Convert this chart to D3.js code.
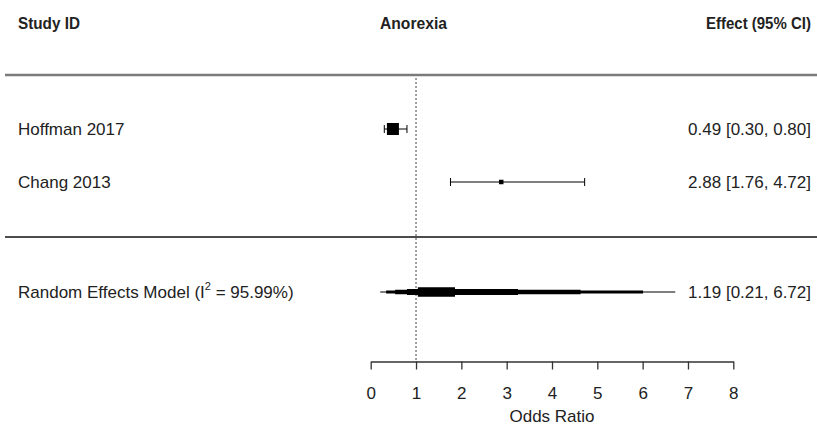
<!DOCTYPE html>
<html><head><meta charset="utf-8">
<script src="https://cdn.jsdelivr.net/npm/d3@7"></script>
<style>html,body{margin:0;padding:0;background:#fff;}svg{display:block;}</style>
</head><body>
<script>
// ---- data ----
const studies = ["Hoffman 2017", "Chang 2013"];
const estimates = [0.49, 2.88];
const lowers = [0.30, 1.76];
const uppers = [0.80, 4.72];
const weights = [1.0, 0.12];           // relative weight
const effectLabels = ["0.49 [0.30, 0.80]", "2.88 [1.76, 4.72]"];
const summaryLabel = "Random Effects Model";
const summaryI2 = "95.99%";
const summaryEffect = "1.19 [0.21, 6.72]";
const summaryEstimate = 1.19;
// nested interval bands of the summary (outer -> inner)
const bandLower = [0.21, 0.34, 0.54, 0.80, 1.04];
const bandUpper = [6.72, 6.01, 4.63, 3.25, 1.86];
const xTicks = [0, 1, 2, 3, 4, 5, 6, 7, 8];
const headers = ["Study ID", "Anorexia", "Effect (95% CI)"];
const axisTitle = "Odds Ratio";
const refValue = 1;

// ---- layout ----
const W = 817, H = 432;
const svg = d3.select("body").append("svg").attr("width", W).attr("height", H);
const x = d3.scaleLinear().domain([0, 8]).range([370.7, 733.3]);
const rowY = d3.scalePoint().domain(studies).range([129, 182]);
const yHeader = 23, yTop = 75, yDiv = 237, ySum = 292, yAxis = 361.5;
const font = "'Liberation Sans', Arial, sans-serif";
const txt = "#222";
const fs = 17;

// headers (condensed bold via horizontal scale)
const hdrSpec = [
  {x: 18, len: 62},
  {x: 380, len: 67},
  {x: 706, len: 105}
];
const hdr = svg.append("g").attr("font-family", font)
  .attr("font-weight", "bold").attr("font-size", 17).attr("fill", txt);
headers.forEach((h, i) => {
  const t = hdr.append("text").attr("x", 0).attr("y", 0).attr("dy", "0.35em").text(h);
  const natural = t.node().getComputedTextLength();
  const sx = hdrSpec[i].len / natural;
  t.attr("transform", `translate(${hdrSpec[i].x},${yHeader}) scale(${sx},1)`);
});

// separators
svg.append("line").attr("x1", 5).attr("x2", W).attr("y1", yTop).attr("y2", yTop)
  .attr("stroke", "#7a7a7a").attr("stroke-width", 2.5);
svg.append("line").attr("x1", 5).attr("x2", W).attr("y1", yDiv).attr("y2", yDiv)
  .attr("stroke", "#111").attr("stroke-width", 1.5);

// reference line
svg.append("line").attr("x1", x(refValue)).attr("x2", x(refValue)).attr("y1", yTop + 3).attr("y2", yAxis)
  .attr("stroke", "#444").attr("stroke-width", 1).attr("stroke-dasharray", "2,2");

// study rows
const rows = svg.append("g");
studies.forEach((s, i) => {
  const y = rowY(s);
  rows.append("text").attr("x", 18).attr("y", y).attr("dy", "0.35em")
    .attr("font-family", font).attr("font-size", fs).attr("fill", txt).text(s);
  rows.append("text").attr("x", 811).attr("y", y).attr("dy", "0.35em").attr("text-anchor", "end")
    .attr("font-family", font).attr("font-size", fs).attr("fill", txt).text(effectLabels[i]);
  rows.append("line").attr("x1", x(lowers[i])).attr("x2", x(uppers[i])).attr("y1", y).attr("y2", y)
    .attr("stroke", "#000").attr("stroke-width", 1);
  [lowers[i], uppers[i]].forEach(v => rows.append("line").attr("x1", x(v)).attr("x2", x(v))
    .attr("y1", y - 4).attr("y2", y + 4).attr("stroke", "#000").attr("stroke-width", 1));
  const size = weights[i] > 0.5 ? 12 : 4.5;
  rows.append("rect").attr("x", x(estimates[i]) - size / 2).attr("y", y - size / 2)
    .attr("width", size).attr("height", size).attr("fill", "#000");
});

// summary row
svg.append("text").attr("x", 18).attr("y", ySum).attr("dy", "0.35em")
  .attr("font-family", font).attr("font-size", fs).attr("fill", txt)
  .call(t => {
    t.append("tspan").text(summaryLabel + " (I");
    t.append("tspan").attr("dy", -8).attr("font-size", 11).text("2");
    t.append("tspan").attr("dy", 8).text(" = " + summaryI2 + ")");
  });
svg.append("text").attr("x", 811).attr("y", ySum).attr("dy", "0.35em").attr("text-anchor", "end")
  .attr("font-family", font).attr("font-size", fs).attr("fill", txt).text(summaryEffect);
const bandThick = [1, 3, 4.5, 6, 9.5];
bandLower.forEach((lo, i) => {
  svg.append("rect").attr("x", x(lo)).attr("y", ySum - bandThick[i] / 2)
    .attr("width", x(bandUpper[i]) - x(lo)).attr("height", bandThick[i]).attr("fill", "#000");
});

// axis
const axis = svg.append("g").attr("transform", `translate(0,${yAxis})`)
  .call(d3.axisBottom(x).tickValues(xTicks).tickSize(8).tickSizeOuter(0).tickPadding(17));
axis.select(".domain").attr("stroke", "#333").attr("stroke-width", 1.3);
axis.selectAll(".tick line").attr("stroke", "#333").attr("stroke-width", 1.3);
axis.selectAll(".tick text").attr("font-family", font).attr("font-size", fs).attr("fill", txt);
svg.append("text").attr("x", x(4)).attr("y", 416).attr("dy", "0.35em").attr("text-anchor", "middle")
  .attr("font-family", font).attr("font-size", fs).attr("fill", txt).text(axisTitle);
</script>
</body></html>
